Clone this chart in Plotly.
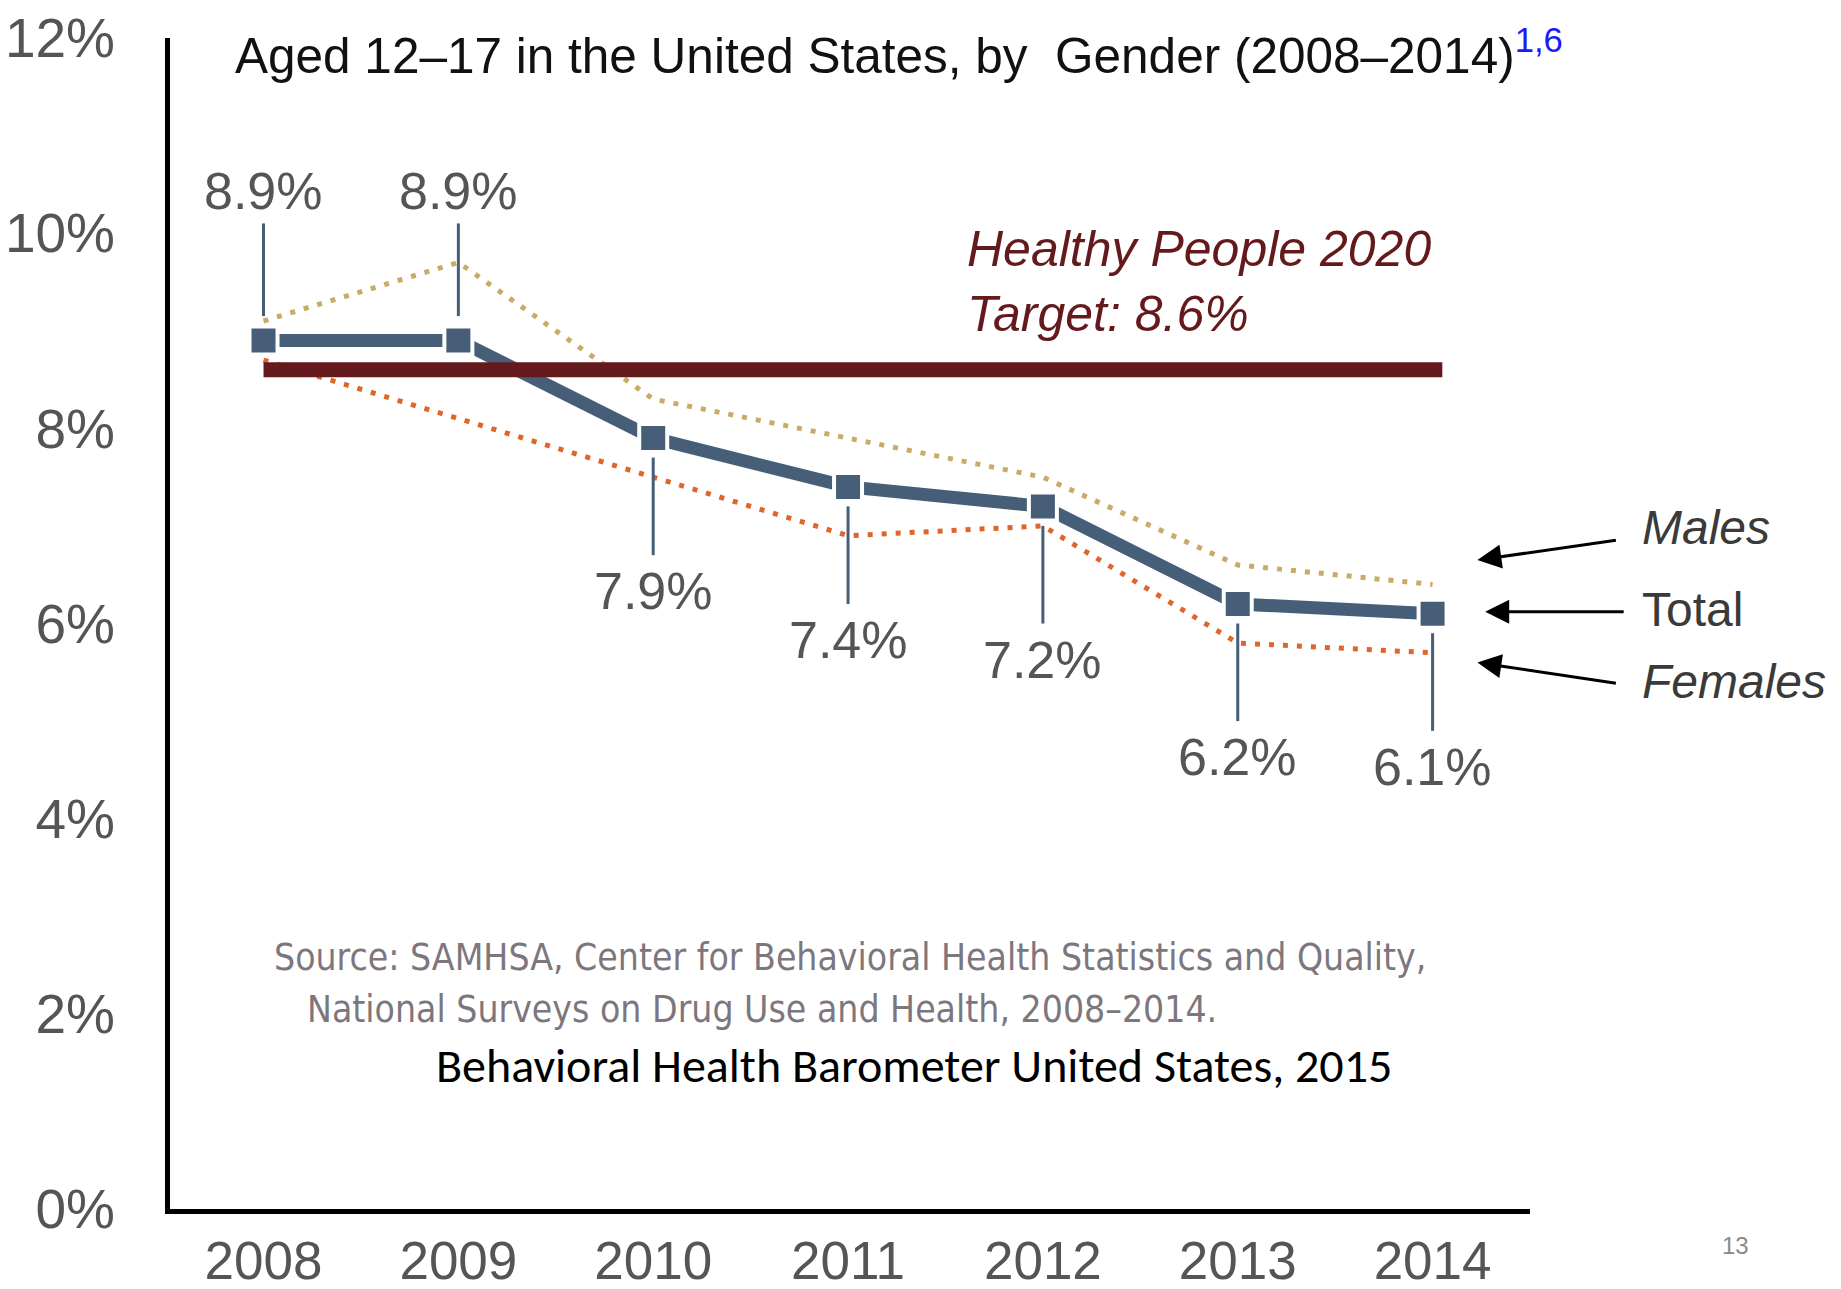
import plotly.graph_objects as go

years = [2008, 2009, 2010, 2011, 2012, 2013, 2014]
year_labels = ["2008", "2009", "2010", "2011", "2012", "2013", "2014"]
total = [8.9, 8.9, 7.9, 7.4, 7.2, 6.2, 6.1]
males = [9.1, 9.7, 8.3, 7.9, 7.5, 6.6, 6.4]
females = [8.7, 8.1, 7.5, 6.9, 7.0, 5.8, 5.7]
target = 8.6
label_side = [1, 1, -1, -1, -1, -1, -1]   # 1 = label above point, -1 = below
y_ticks = [0, 2, 4, 6, 8, 10, 12]
y_tick_labels = ["0%", "2%", "4%", "6%", "8%", "10%", "12%"]

SLATE = "#465e78"
TAN = "#c9aa66"
ORANGE = "#e0652a"
MAROON = "#641a1c"
GREY = "#555555"
FONT = "Liberation Sans, Arial, sans-serif"
NARROW = "Liberation Sans Narrow, Arial Narrow, DejaVu Sans Condensed, sans-serif"

fig = go.Figure()

fig.add_trace(go.Scatter(x=years, y=males, mode="lines",
                         line=dict(color=TAN, width=5, dash="5px,9px"),
                         hoverinfo="skip"))
fig.add_trace(go.Scatter(x=years, y=females, mode="lines",
                         line=dict(color=ORANGE, width=5, dash="5px,9px"),
                         hoverinfo="skip"))
fig.add_trace(go.Scatter(x=years, y=total, mode="lines+markers",
                         line=dict(color=SLATE, width=13),
                         marker=dict(symbol="square", size=28, color=SLATE,
                                     line=dict(color="white", width=4)),
                         hoverinfo="skip"))
fig.add_trace(go.Scatter(x=[years[0], years[-1] + 0.05], y=[target, target],
                         mode="lines", line=dict(color=MAROON, width=15),
                         hoverinfo="skip"))

# leader lines and value labels
lx, ly = [], []
for yr, v, s in zip(years, total, label_side):
    if s > 0:
        a, b, lab = v + 0.25, v + 1.2, v + 1.53
    else:
        a, b, lab = v - 0.2, v - 1.2, v - 1.57
    lx += [yr, yr, None]
    ly += [a, b, None]
    fig.add_annotation(x=yr, y=lab, text=f"{v:.1f}%", showarrow=False,
                       font=dict(family=FONT, size=52, color=GREY),
                       xanchor="center", yanchor="middle")
fig.add_trace(go.Scatter(x=lx, y=ly, mode="lines",
                         line=dict(color=SLATE, width=3), hoverinfo="skip"))

# title line
fig.add_annotation(xref="paper", yref="y", x=0.046, y=11.86,
                   text="Aged 12–17 in the United States, by  Gender (2008–2014)"
                        "<sup><span style='color:#1a1aff'>1,6</span></sup>",
                   showarrow=False, xanchor="left", yanchor="middle",
                   font=dict(family=FONT, size=49.5, color="#111111"))

# Healthy People target text
fig.add_annotation(xref="paper", yref="y", x=0.5846, y=9.5,
                   text="<i>Healthy People 2020<br>Target: 8.6%</i>",
                   showarrow=False, xanchor="left", yanchor="middle", align="left",
                   font=dict(family=FONT, size=50, color=MAROON))

# series labels with arrows
for txt, ty, hx, hy, ay in [("<i>Males</i>", 6.98, 2014.23, 6.65, -20),
                            ("Total", 6.14, 2014.27, 6.12, 0),
                            ("<i>Females</i>", 5.41, 2014.23, 5.60, 21)]:
    fig.add_annotation(xref="paper", yref="y", x=1.081, y=ty, text=txt,
                       showarrow=False, xanchor="left", yanchor="middle",
                       font=dict(family=FONT, size=48, color="#3a3a3a"))
    fig.add_annotation(x=hx, y=hy, ax=140, ay=ay, axref="pixel", ayref="pixel",
                       text="", showarrow=True, arrowhead=2, arrowsize=1.6,
                       arrowwidth=3, arrowcolor="black", standoff=0)

# source text
fig.add_annotation(xref="paper", yref="y", x=0.075, y=2.58,
                   text="Source: SAMHSA, Center for Behavioral Health Statistics and Quality,",
                   showarrow=False, xanchor="left", yanchor="middle",
                   font=dict(family=NARROW, size=37, color="#7d777d"))
fig.add_annotation(xref="paper", yref="y", x=0.099, y=2.04,
                   text="National Surveys on Drug Use and Health, 2008–2014.",
                   showarrow=False, xanchor="left", yanchor="middle",
                   font=dict(family=NARROW, size=37, color="#7d777d"))
fig.add_annotation(xref="paper", yref="y", x=0.194, y=1.475,
                   text="Behavioral Health Barometer United States, 2015",
                   showarrow=False, xanchor="left", yanchor="middle",
                   font=dict(family="Carlito, Lato, sans-serif", size=48, color="black"))
fig.add_annotation(xref="paper", yref="paper", x=1.151, y=-0.031, text="13",
                   showarrow=False, xanchor="center", yanchor="middle",
                   font=dict(family=FONT, size=24, color="#8a8a8a"))

fig.update_layout(
    width=1841, height=1289,
    margin=dict(l=170, r=311, t=38, b=80),
    paper_bgcolor="white", plot_bgcolor="white",
    showlegend=False,
    xaxis=dict(range=[2007.52, 2014.5], tickvals=years, ticktext=year_labels,
               showgrid=False, zeroline=False, showline=True, linecolor="black",
               linewidth=5, ticks="", ticklabelstandoff=1, automargin=False,
               tickfont=dict(family=FONT, size=53, color=GREY)),
    yaxis=dict(range=[0, 12], tickvals=y_ticks, ticktext=y_tick_labels,
               showgrid=False, zeroline=False, showline=True, linecolor="black",
               linewidth=5, ticks="", ticklabelstandoff=39, automargin=False,
               tickfont=dict(family=FONT, size=55, color=GREY)),
)

fig.write_html("out.html", config={"displayModeBar": False},
               post_script="document.body.style.margin='0';")
